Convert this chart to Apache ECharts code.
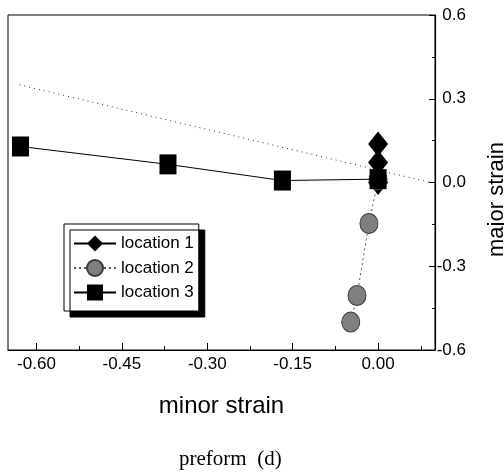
<!DOCTYPE html>
<html>
<head>
<meta charset="utf-8">
<script src="https://cdn.jsdelivr.net/npm/echarts@6/dist/echarts.min.js"></script>
<style>html,body{margin:0;padding:0;background:#fff}#c{width:504px;height:474px}</style>
</head>
<body>
<div id="c"></div>
<script>
// data
const seriesNames = ['location 1', 'location 2', 'location 3'];
const location1 = [[0.0, 0.138], [0.0, 0.072], [0.0, 0.0]];
const location2 = [[0.0, 0.01], [-0.016, -0.147], [-0.037, -0.405], [-0.048, -0.50]];
const location3 = [[-0.628, 0.129], [-0.369, 0.065], [-0.168, 0.007], [0.0, 0.012]];
const referenceLine = [[-0.63, 0.35], [0.092, 0.0]];
const xLabelValues = [-0.60, -0.45, -0.30, -0.15, 0.00];
const xMinorTickValues = [-0.525, -0.375, -0.225, -0.075, 0.075];
const xRange = [-0.65, 0.10];
const yRange = [-0.6, 0.6];
const yInterval = 0.3;
const xTitle = 'minor strain';
const yTitle = 'major strain';
const captionText = 'preform  (d)';

const sans = 'Liberation Sans';
const chart = echarts.init(document.getElementById('c'), null, {renderer: 'canvas'});
chart.setOption({
  animation: false,
  backgroundColor: '#fff',
  title: {
    text: captionText,
    left: 174, top: 444,
    textStyle: {fontFamily: 'Liberation Serif', fontWeight: 'normal', fontSize: 21, color: '#000'}
  },
  grid: {left: 8, right: 69, top: 15, bottom: 124, show: true, borderColor: '#000', borderWidth: 1,
    outerBoundsMode: 'none', containLabel: false},
  legend: {
    orient: 'vertical', left: 64, top: 224,
    padding: [11, 5, 10, 9],
    itemWidth: 42, itemHeight: 20, itemGap: 7,
    backgroundColor: '#fff', borderColor: '#000', borderWidth: 1,
    shadowColor: '#000', shadowBlur: 0, shadowOffsetX: 6, shadowOffsetY: 6,
    data: seriesNames,
    textStyle: {fontFamily: sans, fontSize: 17, color: '#000'}
  },
  xAxis: [{
    type: 'value', position: 'bottom', min: xRange[0], max: xRange[1],
    name: xTitle, nameLocation: 'middle', nameGap: 44,
    nameTextStyle: {fontFamily: sans, fontSize: 24, color: '#000'},
    axisLine: {onZero: false, lineStyle: {color: '#000', width: 1.2}},
    axisTick: {inside: true, length: 7, customValues: xLabelValues, lineStyle: {color: '#000'}},
    axisLabel: {customValues: xLabelValues, margin: 6, fontFamily: sans, fontSize: 17, color: '#000',
      formatter: v => v.toFixed(2)},
    splitLine: {show: false}
  }, {
    type: 'value', position: 'bottom', min: xRange[0], max: xRange[1],
    axisLine: {show: false, onZero: false},
    axisTick: {inside: true, length: 4, customValues: xMinorTickValues, lineStyle: {color: '#000'}},
    axisLabel: {show: false},
    splitLine: {show: false}
  }],
  yAxis: {
    type: 'value', position: 'right', min: yRange[0], max: yRange[1], interval: yInterval,
    name: yTitle, nameLocation: 'middle', nameGap: 51,
    nameTextStyle: {fontFamily: sans, fontSize: 22, color: '#000', padding: [0, 34, 0, 0]},
    axisLine: {onZero: false, lineStyle: {color: '#000', width: 1.2}},
    axisTick: {inside: true, length: 6, lineStyle: {color: '#000'}},
    minorTick: {show: true, splitNumber: 2, length: 3, lineStyle: {color: '#000'}},
    axisLabel: {margin: 31, align: 'right', fontFamily: sans, fontSize: 17, color: '#000',
      formatter: v => v.toFixed(1)},
    splitLine: {show: false}
  },
  series: [{
    type: 'line', data: referenceLine, symbol: 'none', silent: true, z: 1,
    lineStyle: {color: '#333', width: 1, type: [1, 4]}
  }, {
    name: seriesNames[0], type: 'line', data: location1, z: 2,
    symbol: 'diamond', symbolSize: [20, 25],
    itemStyle: {color: '#000'}, lineStyle: {color: '#000', width: 1}
  }, {
    name: seriesNames[1], type: 'line', data: location2, z: 3,
    symbol: 'circle', symbolSize: [18, 20],
    itemStyle: {color: '#7f7f7f', borderColor: '#3a3a3a', borderWidth: 1},
    lineStyle: {color: '#555', width: 1, type: [2, 3]}
  }, {
    name: seriesNames[2], type: 'line', data: location3, z: 4,
    symbol: 'rect', symbolSize: [17, 20],
    itemStyle: {color: '#000'}, lineStyle: {color: '#000', width: 1}
  }]
});
</script>
</body>
</html>
